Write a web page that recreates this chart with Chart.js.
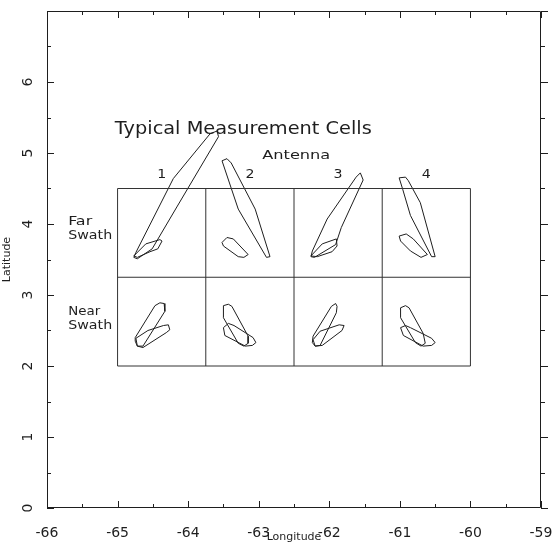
<!DOCTYPE html>
<html>
<head>
<meta charset="utf-8">
<script src="https://cdn.jsdelivr.net/npm/chart.js@4"></script>
<style>
  html, body { margin: 0; padding: 0; background: #fff; }
  #wrap { width: 552px; height: 545px; }
</style>
</head>
<body>
<div id="wrap"><canvas id="cellsChart" width="552" height="545"></canvas></div>
<script>
// axes: x = longitude, y = latitude
const lonTicks = [-66, -65, -64, -63, -62, -61, -60, -59];
const latTicks = [0, 1, 2, 3, 4, 5, 6, 7];

// the antenna / swath table drawn on the map
const tableCols = [-65, -63.75, -62.5, -61.25, -60];
const tableRows = [2, 3.25, 4.5];
const antennaLabels = ['1', '2', '3', '4'];

// measurement cell footprints, [lon, lat]
const far1Long  = [[-64.77, 3.53], [-64.74, 3.60], [-64.21, 4.64], [-63.69, 5.27], [-63.59, 5.31], [-63.57, 5.23], [-64.16, 4.24], [-64.51, 3.65], [-64.72, 3.51]];
const far1Short = [[-64.77, 3.55], [-64.60, 3.72], [-64.40, 3.78], [-64.37, 3.76], [-64.43, 3.65], [-64.54, 3.61], [-64.72, 3.53]];
const far2Long  = [[-63.52, 4.89], [-63.45, 4.92], [-63.39, 4.86], [-63.05, 4.21], [-62.84, 3.54], [-62.89, 3.53], [-63.29, 4.21]];
const far2Short = [[-63.52, 3.74], [-63.45, 3.81], [-63.36, 3.79], [-63.15, 3.57], [-63.21, 3.53], [-63.29, 3.54], [-63.50, 3.69]];
const far3Long  = [[-62.26, 3.54], [-62.24, 3.62], [-62.03, 4.07], [-61.62, 4.66], [-61.56, 4.72], [-61.52, 4.62], [-61.83, 3.95], [-61.91, 3.71], [-62.21, 3.53]];
const far3Short = [[-62.26, 3.55], [-62.10, 3.72], [-61.90, 3.79], [-61.89, 3.69], [-61.96, 3.61], [-62.17, 3.54]];
const far4Long  = [[-61.01, 4.65], [-60.92, 4.66], [-60.88, 4.61], [-60.71, 4.30], [-60.50, 3.54], [-60.55, 3.54], [-60.85, 4.12], [-60.96, 4.49]];
const far4Short = [[-61.01, 3.83], [-60.91, 3.86], [-60.81, 3.79], [-60.61, 3.57], [-60.70, 3.53], [-60.85, 3.62], [-60.99, 3.76]];

const near1Up   = [[-64.75, 2.35], [-64.75, 2.40], [-64.47, 2.85], [-64.40, 2.89], [-64.34, 2.88], [-64.33, 2.77], [-64.64, 2.28], [-64.72, 2.28]];
const near1Flat = [[-64.74, 2.39], [-64.57, 2.50], [-64.35, 2.57], [-64.28, 2.58], [-64.26, 2.51], [-64.31, 2.47], [-64.64, 2.26], [-64.72, 2.28]];
const near2Up   = [[-63.50, 2.85], [-63.43, 2.87], [-63.38, 2.84], [-63.15, 2.42], [-63.15, 2.32], [-63.21, 2.28], [-63.29, 2.32], [-63.50, 2.68]];
const near2Flat = [[-63.50, 2.54], [-63.43, 2.60], [-63.35, 2.57], [-63.08, 2.40], [-63.04, 2.33], [-63.09, 2.29], [-63.19, 2.28], [-63.48, 2.43]];
const near3Up   = [[-62.24, 2.33], [-62.23, 2.42], [-61.97, 2.84], [-61.91, 2.88], [-61.89, 2.84], [-61.90, 2.75], [-62.13, 2.29], [-62.20, 2.28]];
const near3Flat = [[-62.23, 2.37], [-62.13, 2.49], [-61.86, 2.58], [-61.79, 2.57], [-61.82, 2.50], [-62.10, 2.29], [-62.20, 2.28]];
const near4Up   = [[-60.99, 2.82], [-60.92, 2.85], [-60.87, 2.82], [-60.67, 2.46], [-60.64, 2.32], [-60.70, 2.28], [-60.78, 2.33], [-60.99, 2.68]];
const near4Flat = [[-60.99, 2.54], [-60.92, 2.57], [-60.85, 2.54], [-60.55, 2.39], [-60.50, 2.33], [-60.55, 2.29], [-60.67, 2.28], [-60.95, 2.43]];

const footprints = [far1Long, far1Short, far2Long, far2Short, far3Long, far3Short, far4Long, far4Short,
                    near1Up, near1Flat, near2Up, near2Flat, near3Up, near3Flat, near4Up, near4Flat];

const ink = '#1e1e1e';
const fontFamily = '"DejaVu Sans", sans-serif';

function closed(poly) {
    const pts = poly.map(p => ({ x: p[0], y: p[1] }));
    pts.push({ x: poly[0][0], y: poly[0][1] });
    return pts;
}

function segment(x1, y1, x2, y2) {
    return [{ x: x1, y: y1 }, { x: x2, y: y2 }];
}

const datasets = [];
// table frame
tableRows.forEach(r => datasets.push({ data: segment(tableCols[0], r, tableCols[tableCols.length - 1], r), borderColor: '#333', borderWidth: 1 }));
tableCols.forEach(c => datasets.push({ data: segment(c, tableRows[0], c, tableRows[tableRows.length - 1]), borderColor: '#333', borderWidth: 1 }));
// footprints
footprints.forEach(poly => datasets.push({ data: closed(poly), borderColor: ink, borderWidth: 1 }));
datasets.forEach(d => { d.showLine = true; d.pointRadius = 0; d.fill = false; d.tension = 0; });

// the plotter font is wide, so stretch the text sideways to the width it had
function wideText(ctx, text, x, y, align, width) {
    const w = ctx.measureText(text).width;
    const k = width ? width / w : 1;
    const left = align === 'center' ? x - (w * k) / 2 : x;
    ctx.save();
    ctx.translate(left, y);
    ctx.scale(k, 1);
    ctx.textAlign = 'left';
    ctx.fillText(text, 0, 0);
    ctx.restore();
}

// frame with inward ticks, plus the text written on the map
const mapDecor = {
    id: 'mapDecor',
    afterDatasetsDraw(chart) {
        const { ctx, chartArea: a, scales: { x, y } } = chart;
        ctx.save();
        ctx.strokeStyle = ink;
        ctx.lineWidth = 1;
        ctx.beginPath();
        ctx.rect(a.left + 0.5, a.top + 0.5, a.right - a.left - 1, a.bottom - a.top - 1);
        ctx.stroke();

        ctx.beginPath();
        for (let v = lonTicks[0]; v <= lonTicks[lonTicks.length - 1]; v += 0.5) {
            const px = Math.round(x.getPixelForValue(v)) + 0.5;
            const len = Number.isInteger(v) ? 7 : 4;
            ctx.moveTo(px, a.bottom); ctx.lineTo(px, a.bottom - len);
            ctx.moveTo(px, a.top); ctx.lineTo(px, a.top + len);
        }
        for (let v = latTicks[0]; v <= latTicks[latTicks.length - 1]; v += 0.5) {
            const py = Math.round(y.getPixelForValue(v)) + 0.5;
            const len = Number.isInteger(v) ? 7 : 4;
            ctx.moveTo(a.left, py); ctx.lineTo(a.left + len, py);
            ctx.moveTo(a.right, py); ctx.lineTo(a.right + len, py);
        }
        ctx.stroke();

        ctx.fillStyle = ink;
        ctx.textBaseline = 'alphabetic';
        ctx.font = '17px ' + fontFamily;
        wideText(ctx, 'Typical Measurement Cells', x.getPixelForValue(-65.04), y.getPixelForValue(5.27), 'left', 257);

        ctx.font = '13px ' + fontFamily;
        wideText(ctx, 'Antenna', x.getPixelForValue(-62.95), y.getPixelForValue(4.92), 'left', 68);
        antennaLabels.forEach((t, i) => {
            const mid = (tableCols[i] + tableCols[i + 1]) / 2;
            wideText(ctx, t, x.getPixelForValue(mid), y.getPixelForValue(4.65), 'center', 9);
        });

        const sx = x.getPixelForValue(-65.70);
        wideText(ctx, 'Far', sx, y.getPixelForValue(3.99), 'left', 24);
        wideText(ctx, 'Swath', sx, y.getPixelForValue(3.79), 'left', 44);
        wideText(ctx, 'Near', sx, y.getPixelForValue(2.72), 'left', 32);
        wideText(ctx, 'Swath', sx, y.getPixelForValue(2.52), 'left', 44);
        ctx.restore();
    }
};

new Chart(document.getElementById('cellsChart'), {
    type: 'scatter',
    data: { datasets: datasets },
    options: {
        responsive: false,
        animation: false,
        events: [],
        layout: { padding: { top: 11, right: 11, left: 0, bottom: 0 } },
        plugins: { legend: { display: false }, tooltip: { enabled: false } },
        scales: {
            x: {
                type: 'linear',
                min: lonTicks[0],
                max: lonTicks[lonTicks.length - 1],
                afterBuildTicks: s => { s.ticks = lonTicks.map(v => ({ value: v })); },
                afterFit: s => { s.height = 37; s.paddingLeft = 0; s.paddingRight = 0; },
                grid: { display: false },
                border: { display: false },
                ticks: { color: ink, padding: 9, maxRotation: 0, autoSkip: false, font: { family: fontFamily, size: 14 } },
                title: { display: true, text: 'Longitude', color: ink, padding: { top: 0, bottom: 1 }, font: { family: fontFamily, size: 11 } }
            },
            y: {
                type: 'linear',
                min: latTicks[0],
                max: latTicks[latTicks.length - 1],
                afterBuildTicks: s => { s.ticks = latTicks.map(v => ({ value: v })); },
                afterFit: s => { s.width = 47; s.paddingTop = 0; s.paddingBottom = 0; },
                grid: { display: false },
                border: { display: false },
                ticks: {
                    color: ink, padding: 6, minRotation: 90, maxRotation: 90, crossAlign: 'center', autoSkip: false,
                    font: { family: fontFamily, size: 14 },
                    callback: v => (v === 7 ? '' : String(v))
                },
                title: { display: true, text: 'Latitude', color: ink, padding: { top: 1, bottom: 0 }, font: { family: fontFamily, size: 11 } }
            }
        }
    },
    plugins: [mapDecor]
});
</script>
</body>
</html>
